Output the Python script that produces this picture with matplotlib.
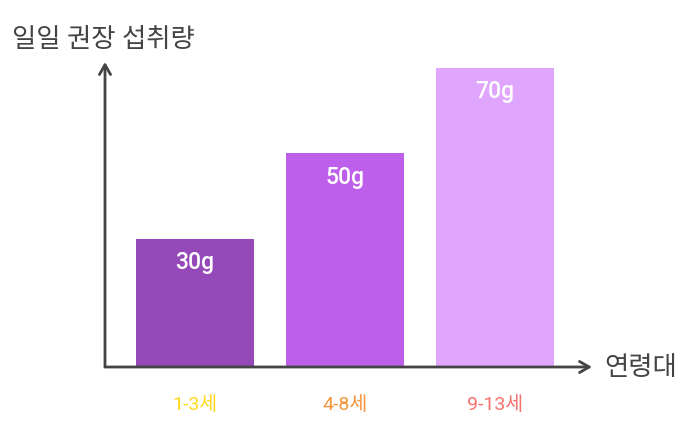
import matplotlib
matplotlib.use("Agg")
import matplotlib.pyplot as plt

categories = ["1-3세", "4-8세", "9-13세"]
values = [30, 50, 70]
value_labels = ["30g", "50g", "70g"]
bar_colors = ["#9549B8", "#BD5FEB", "#E0A6FE"]
tick_colors = ["#FFD91A", "#F5943A", "#F7706B"]
y_title = "일일 권장 섭취량"
x_title = "연령대"

plt.rcParams['font.family'] = ['Roboto', 'Noto Sans CJK KR', 'DejaVu Sans']

W, H = 686, 440
fig = plt.figure(figsize=(W / 100, H / 100), dpi=100)
x0, x1, y0, y1 = 105, 592, 367, 62
ax = fig.add_axes([x0 / W, 1 - y0 / H, (x1 - x0) / W, (y0 - y1) / H])

pos = list(range(len(categories)))
ax.bar(pos, values, width=0.787, color=bar_colors)
ax.set_xlim(-0.6, 2.647)
ax.set_ylim(0, 71.4)

for p, v, lab in zip(pos, values, value_labels):
    ax.annotate(lab, (p, v), xytext=(0, -24), textcoords='offset pixels',
                ha='center', va='center', color='white', fontsize=16.5,
                fontweight='medium')

for s in ax.spines.values():
    s.set_visible(False)
ax.set_xticks([])
ax.set_yticks([])

axis_color = "#444444"
ax.annotate("", xy=(0, 1), xytext=(0, 0), xycoords='axes fraction',
            arrowprops=dict(arrowstyle='->,head_length=0.7,head_width=0.4',
                            color=axis_color, lw=2, shrinkA=0, shrinkB=0))
ax.annotate("", xy=(1, 0), xytext=(0, 0), xycoords='axes fraction',
            arrowprops=dict(arrowstyle='->,head_length=0.7,head_width=0.4',
                            color=axis_color, lw=2, shrinkA=0, shrinkB=0))

for p, c, col in zip(pos, categories, tick_colors):
    ax.annotate(c, (p, 0), xytext=(0, -38), textcoords='offset pixels',
                ha='center', va='center', color=col, fontsize=14)

fig.text(12 / W, 1 - 40 / H, y_title, ha='left', va='center',
         color=axis_color, fontsize=19)
fig.text(604 / W, 1 - 368 / H, x_title, ha='left', va='center',
         color=axis_color, fontsize=19)

fig.savefig("out.png", dpi=100)
